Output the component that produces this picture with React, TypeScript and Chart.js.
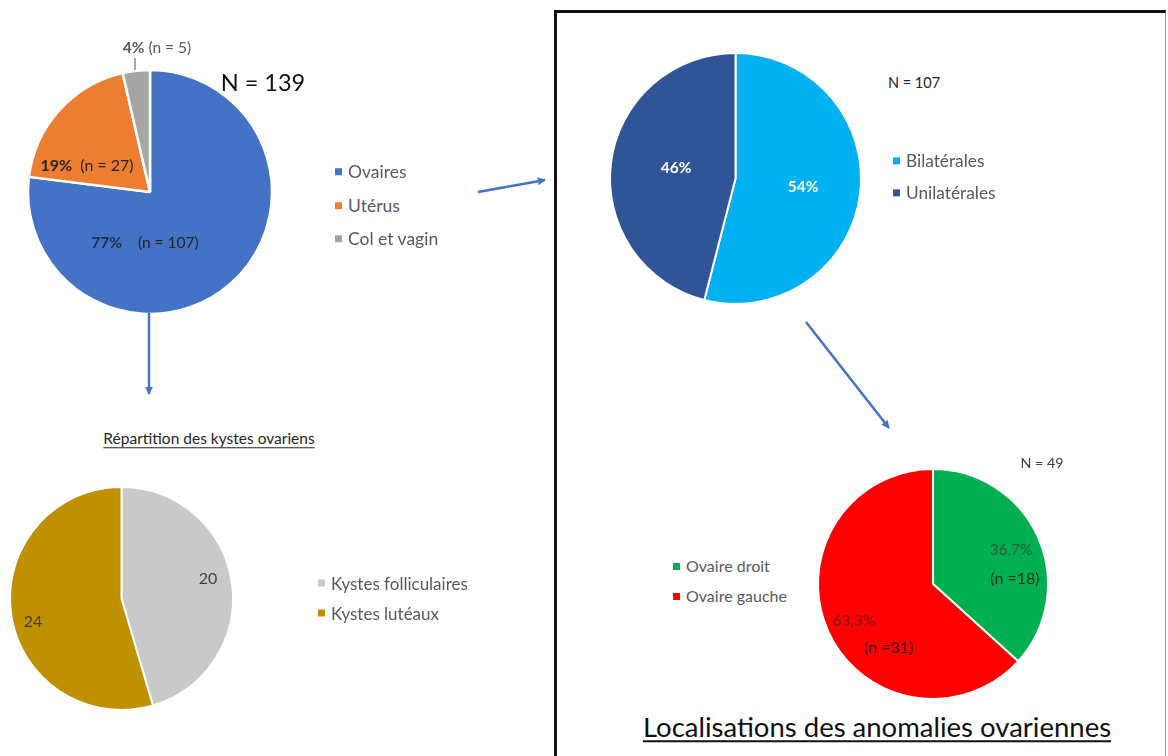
import React, { useEffect, useRef } from "react";
import { Chart, registerables } from "chart.js";

Chart.register(...registerables);

// ---------- DATA ----------
const organCategories = ["Ovaires", "Utérus", "Col et vagin"];
const organCounts = [107, 27, 5];
const organTotal = 139;

const sideCategories = ["Bilatérales", "Unilatérales"];
const sidePercents = [54, 46];
const sideTotal = 107;

const cystCategories = ["Kystes folliculaires", "Kystes lutéaux"];
const cystCounts = [20, 24];

const ovaryCategories = ["Ovaire droit", "Ovaire gauche"];
const ovaryCounts = [18, 31];
const ovaryTotal = 49;

const cystTitle = "Répartition des kystes ovariens";
const boxTitle = "Localisations des anomalies ovariennes";

// ---------- STYLE ----------
const FONT = "Lato, 'Open Sans', sans-serif";
const organColors = ["#4472C4", "#ED7D31", "#A5A5A5"];
const sideColors = ["#00B0F0", "#2F5597"];
const cystColors = ["#C9C9C9", "#BF9000"];
const ovaryColors = ["#00B050", "#FF0000"];
const ARROW = "#4472C4";
const LEGEND_TEXT = "#595959";

type PieProps = {
  cx: number;
  cy: number;
  r: number;
  labels: string[];
  values: number[];
  colors: string[];
  border?: number;
};

function Pie({ cx, cy, r, labels, values, colors, border = 2 }: PieProps) {
  const ref = useRef<HTMLCanvasElement | null>(null);
  const pad = 4;
  const size = 2 * (r + pad);
  useEffect(() => {
    if (!ref.current) return;
    const chart = new Chart(ref.current, {
      type: "pie",
      data: {
        labels,
        datasets: [
          {
            data: values,
            backgroundColor: colors,
            borderColor: "#ffffff",
            borderWidth: border,
            radius: r,
            hoverOffset: 0,
            offset: 0,
          } as any,
        ],
      },
      options: {
        responsive: false,
        animation: false,
        events: [],
        layout: { padding: 0 },
        plugins: { legend: { display: false }, tooltip: { enabled: false } },
      },
    });
    return () => chart.destroy();
  }, []);
  return (
    <canvas
      ref={ref}
      width={size}
      height={size}
      style={{ position: "absolute", left: cx - size / 2, top: cy - size / 2, width: size, height: size }}
    />
  );
}

type LegendProps = { x: number; ys: number[]; items: string[]; colors: string[]; size?: number };
function Legend({ x, ys, items, colors, size = 15 }: LegendProps) {
  return (
    <>
      {items.map((it, i) => (
        <div
          key={it}
          style={{
            position: "absolute",
            left: x,
            top: ys[i],
            transform: "translateY(-50%)",
            display: "flex",
            alignItems: "center",
            fontFamily: FONT,
            fontSize: size,
            color: LEGEND_TEXT,
            whiteSpace: "nowrap",
            lineHeight: 1,
          }}
        >
          <span style={{ display: "inline-block", width: 7, height: 7, background: colors[i], marginRight: 6 }} />
          <span>{it}</span>
        </div>
      ))}
    </>
  );
}

function Txt({
  x,
  y,
  children,
  size = 14,
  color = "#404040",
  weight = 400,
  align = "center",
  underline = false,
}: {
  x: number;
  y: number;
  children: React.ReactNode;
  size?: number;
  color?: string;
  weight?: number;
  align?: "center" | "left";
  underline?: boolean;
}) {
  return (
    <div
      style={{
        position: "absolute",
        left: x,
        top: y,
        transform: align === "center" ? "translate(-50%,-50%)" : "translateY(-50%)",
        fontFamily: FONT,
        fontSize: size,
        color,
        fontWeight: weight,
        whiteSpace: "pre",
        lineHeight: 1,
        textDecoration: underline ? "underline" : "none",
        textUnderlineOffset: underline ? 3 : undefined,
      }}
    >
      {children}
    </div>
  );
}

const pct = (v: number, t: number) => Math.round((v / t) * 100) + "%";
const pct1 = (v: number, t: number) => ((v / t) * 100).toFixed(1).replace(".", ",") + "%";

export default function App() {
  return (
    <div
      style={{
        position: "fixed",
        left: 0,
        top: 0,
        width: 1168,
        height: 756,
        background: "#ffffff",
        overflow: "hidden",
      }}
    >
      {/* box */}
      <div
        style={{
          position: "absolute",
          left: 554,
          top: 10,
          width: 1166 - 554,
          height: 800,
          borderLeft: "3px solid #111",
          borderTop: "3px solid #111",
          borderRight: "1px solid #999",
          boxSizing: "border-box",
        }}
      />

      {/* pie 1 : organes */}
      <Pie cx={150} cy={192} r={122} labels={organCategories} values={organCounts} colors={organColors} border={2.5} />
      <div style={{ position: "absolute", left: 134, top: 58, width: 1.5, height: 12, background: "#A5A5A5" }} />
      <Txt x={157} y={48} size={15.5} color="#595959">
        <b>{pct(organCounts[2], organTotal)}</b>
        {` (n = ${organCounts[2]})`}
      </Txt>
      <Txt x={263} y={83} size={23.5} color="#111">{`N = ${organTotal}`}</Txt>
      <Txt x={87} y={165} size={16} color="#262626">
        <b>{pct(organCounts[1], organTotal)}</b>
        {`  (n = ${organCounts[1]})`}
      </Txt>
      <Txt x={145} y={243} size={15.5} color="#262626">
        <b style={{ color: "#1F2E4D" }}>{pct(organCounts[0], organTotal)}</b>
        {`    (n = ${organCounts[0]})`}
      </Txt>
      <Legend x={335} ys={[172, 206, 239]} items={organCategories} colors={organColors} size={17.5} />

      {/* pie 2 : latéralité */}
      <Pie cx={735} cy={178} r={125.5} labels={sideCategories} values={sidePercents} colors={sideColors} border={2} />
      <Txt x={803} y={187} size={15.5} color="#ffffff" weight={700}>{sidePercents[0] + "%"}</Txt>
      <Txt x={676} y={168} size={15.5} color="#ffffff" weight={700}>{sidePercents[1] + "%"}</Txt>
      <Txt x={914} y={83} size={14.5} color="#222">{`N = ${sideTotal}`}</Txt>
      <Legend x={893} ys={[161, 193]} items={sideCategories} colors={sideColors} size={17.3} />

      {/* pie 3 : kystes */}
      <Txt x={209} y={439} size={15.5} color="#262626" underline>{cystTitle}</Txt>
      <Pie cx={121.5} cy={598} r={111.5} labels={cystCategories} values={cystCounts} colors={cystColors} border={2} />
      <Txt x={208} y={578} size={16} color="#404040">{String(cystCounts[0])}</Txt>
      <Txt x={33} y={621} size={16} color="#404040">{String(cystCounts[1])}</Txt>
      <Legend x={318} ys={[583, 613]} items={cystCategories} colors={cystColors} size={17} />

      {/* pie 4 : ovaire droit / gauche */}
      <Pie cx={933} cy={584} r={115} labels={ovaryCategories} values={ovaryCounts} colors={ovaryColors} border={2} />
      <Txt x={1042} y={463} size={14.3} color="#404040">{`N = ${ovaryTotal}`}</Txt>
      <Txt x={1011} y={550} size={15.5} color="#2F5A3B">{pct1(ovaryCounts[0], ovaryTotal)}</Txt>
      <Txt x={1015} y={578} size={16} color="#1B3021">{`(n =${ovaryCounts[0]})`}</Txt>
      <Txt x={854} y={621} size={15.5} color="#7E1616">{pct1(ovaryCounts[1], ovaryTotal)}</Txt>
      <Txt x={889} y={647} size={16} color="#330909">{`(n =${ovaryCounts[1]})`}</Txt>
      <Legend x={673} ys={[566, 596]} items={ovaryCategories} colors={ovaryColors} size={16} />

      <Txt x={877} y={727} size={27.5} color="#111" underline>{boxTitle}</Txt>

      {/* arrows */}
      <svg width={1168} height={756} style={{ position: "absolute", left: 0, top: 0, pointerEvents: "none" }}>
        <defs>
          <marker id="ah" viewBox="0 0 10 10" refX="9" refY="5" markerWidth="3.2" markerHeight="3.2" orient="auto">
            <path d="M0,0 L10,5 L0,10 z" fill={ARROW} />
          </marker>
        </defs>
        <line x1={478} y1={192} x2={545} y2={180} stroke={ARROW} strokeWidth={2.5} markerEnd="url(#ah)" />
        <line x1={806} y1={322} x2={889} y2={428} stroke={ARROW} strokeWidth={2.5} markerEnd="url(#ah)" />
        <line x1={149} y1={313} x2={149} y2={394} stroke={ARROW} strokeWidth={2.5} markerEnd="url(#ah)" />
      </svg>
    </div>
  );
}
